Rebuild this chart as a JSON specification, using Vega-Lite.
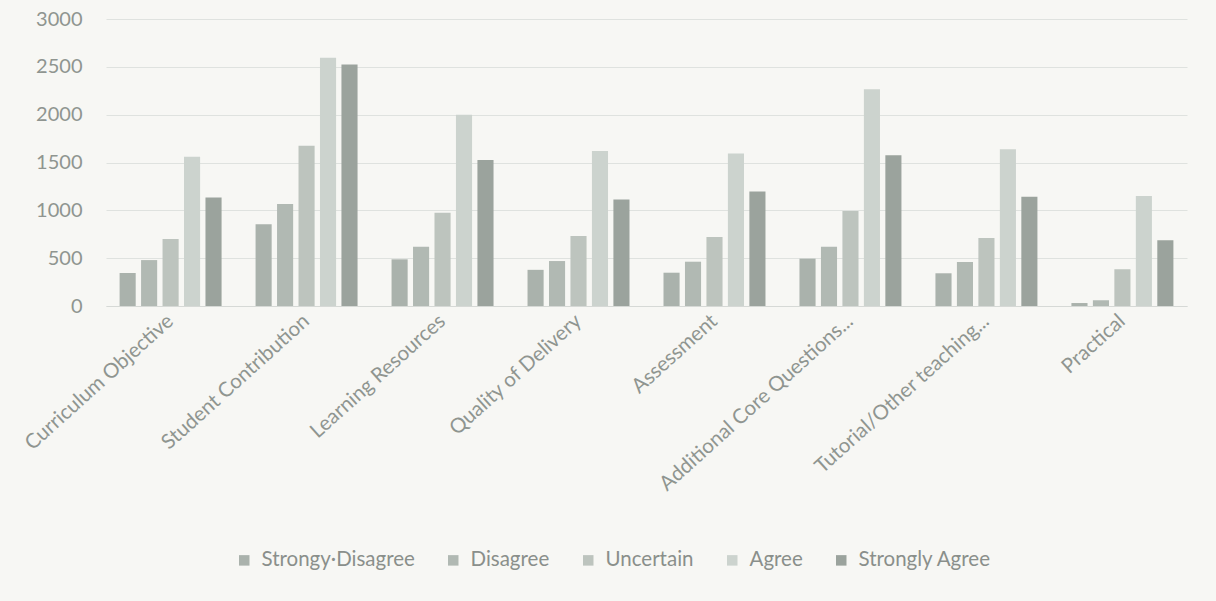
{
  "$schema": "https://vega.github.io/schema/vega-lite/v6.json",
  "autosize": {"type": "none"},
  "width": 1081,
  "height": 287,
  "padding": {"left": 106, "top": 19, "right": 29, "bottom": 295},
  "background": "#f7f7f4",
  "config": {"view": {"stroke": null}, "font": "Lato"},
  "data": {"values": [
    {"category": "Curriculum Objective", "response": "Strongy·Disagree", "count": 345},
    {"category": "Curriculum Objective", "response": "Disagree", "count": 480},
    {"category": "Curriculum Objective", "response": "Uncertain", "count": 700},
    {"category": "Curriculum Objective", "response": "Agree", "count": 1560},
    {"category": "Curriculum Objective", "response": "Strongly Agree", "count": 1135},
    {"category": "Student Contribution", "response": "Strongy·Disagree", "count": 855},
    {"category": "Student Contribution", "response": "Disagree", "count": 1065},
    {"category": "Student Contribution", "response": "Uncertain", "count": 1675},
    {"category": "Student Contribution", "response": "Agree", "count": 2595},
    {"category": "Student Contribution", "response": "Strongly Agree", "count": 2525},
    {"category": "Learning Resources", "response": "Strongy·Disagree", "count": 488},
    {"category": "Learning Resources", "response": "Disagree", "count": 620},
    {"category": "Learning Resources", "response": "Uncertain", "count": 975},
    {"category": "Learning Resources", "response": "Agree", "count": 2000},
    {"category": "Learning Resources", "response": "Strongly Agree", "count": 1525},
    {"category": "Quality of Delivery", "response": "Strongy·Disagree", "count": 378},
    {"category": "Quality of Delivery", "response": "Disagree", "count": 470},
    {"category": "Quality of Delivery", "response": "Uncertain", "count": 732},
    {"category": "Quality of Delivery", "response": "Agree", "count": 1620},
    {"category": "Quality of Delivery", "response": "Strongly Agree", "count": 1112},
    {"category": "Assessment", "response": "Strongy·Disagree", "count": 348},
    {"category": "Assessment", "response": "Disagree", "count": 463},
    {"category": "Assessment", "response": "Uncertain", "count": 722},
    {"category": "Assessment", "response": "Agree", "count": 1593},
    {"category": "Assessment", "response": "Strongly Agree", "count": 1196},
    {"category": "Additional Core Questions...", "response": "Strongy·Disagree", "count": 495},
    {"category": "Additional Core Questions...", "response": "Disagree", "count": 620},
    {"category": "Additional Core Questions...", "response": "Uncertain", "count": 994},
    {"category": "Additional Core Questions...", "response": "Agree", "count": 2265},
    {"category": "Additional Core Questions...", "response": "Strongly Agree", "count": 1576},
    {"category": "Tutorial/Other teaching...", "response": "Strongy·Disagree", "count": 342},
    {"category": "Tutorial/Other teaching...", "response": "Disagree", "count": 460},
    {"category": "Tutorial/Other teaching...", "response": "Uncertain", "count": 711},
    {"category": "Tutorial/Other teaching...", "response": "Agree", "count": 1639},
    {"category": "Tutorial/Other teaching...", "response": "Strongly Agree", "count": 1143},
    {"category": "Practical", "response": "Strongy·Disagree", "count": 31},
    {"category": "Practical", "response": "Disagree", "count": 60},
    {"category": "Practical", "response": "Uncertain", "count": 384},
    {"category": "Practical", "response": "Agree", "count": 1150},
    {"category": "Practical", "response": "Strongly Agree", "count": 687}
  ]},
  "mark": {"type": "bar"},
  "encoding": {
    "x": {
      "field": "category", "type": "nominal", "sort": null,
      "scale": {"paddingInner": 0.25, "paddingOuter": 0.1},
      "axis": {
        "title": null, "labelAngle": -42, "labelAlign": "right", "labelBaseline": "middle",
        "labelFontSize": 20.5, "labelColor": "#8f9590", "ticks": false,
        "domainColor": "#d6d9d6", "labelPadding": 12, "labelLimit": 400
      }
    },
    "xOffset": {"field": "response", "type": "nominal", "sort": ["Strongy·Disagree", "Disagree", "Uncertain", "Agree", "Strongly Agree"], "scale": {"paddingInner": 0.25}},
    "y": {
      "field": "count", "type": "quantitative",
      "scale": {"domain": [0, 3000]},
      "axis": {
        "title": null, "values": [0, 500, 1000, 1500, 2000, 2500, 3000], "format": "d",
        "labelFontSize": 20, "labelColor": "#8f9590", "domain": false, "ticks": false,
        "gridColor": "#dfe2df", "labelPadding": 24
      }
    },
    "color": {
      "field": "response", "type": "nominal",
      "sort": ["Strongy·Disagree", "Disagree", "Uncertain", "Agree", "Strongly Agree"],
      "scale": {"range": ["#aab2ac", "#b1b9b3", "#bdc4be", "#ccd3ce", "#9ba39d"]},
      "legend": {
        "title": null, "orient": "none", "direction": "horizontal",
        "legendX": 128, "legendY": 531, "symbolType": "square", "symbolSize": 110,
        "labelFontSize": 20.5, "labelColor": "#8a8f8b", "columnPadding": 28, "labelOffset": 7,
        "labelLimit": 400
      }
    }
  }
}
